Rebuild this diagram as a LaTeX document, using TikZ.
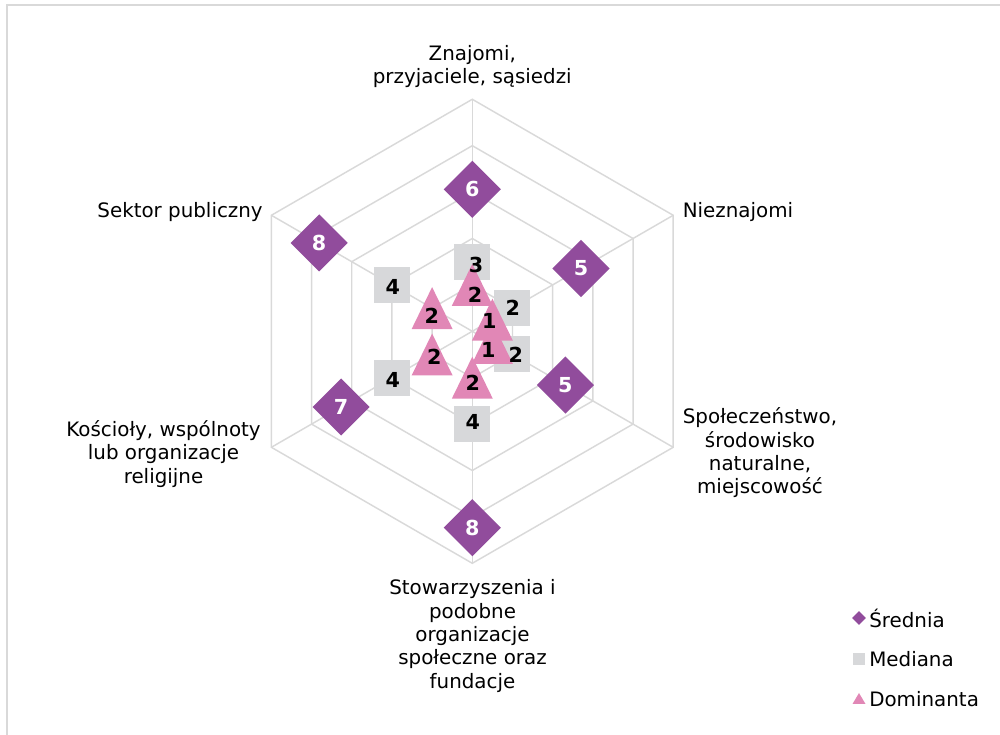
\documentclass[tikz,border=0pt]{standalone}
\usepackage{fontspec}
\setmainfont{DejaVu Sans}
\usetikzlibrary{shapes.geometric,calc}
\definecolor{gridc}{RGB}{217,217,217}
\definecolor{meanc}{RGB}{145,76,156}
\definecolor{medc}{RGB}{215,216,218}
\definecolor{domc}{RGB}{225,135,182}
\definecolor{framec}{RGB}{217,217,217}
\begin{document}
\begin{tikzpicture}[x=0.75pt,y=0.75pt,
  lbl/.style={font=\fontsize{14.9}{17.5}\selectfont, align=center, inner sep=0pt, text=black},
  meanbox/.style={diamond, fill=meanc, minimum width=43pt, minimum height=43pt, inner sep=0pt},
  medbox/.style={rectangle, fill=medc, minimum size=27pt, inner sep=0pt},
  numw/.style={font=\fontsize{15.5}{17}\selectfont\bfseries, text=white, inner sep=0pt},
  numb/.style={font=\fontsize{15.5}{17}\selectfont\bfseries, text=black, inner sep=0pt},
  gridline/.style={draw=gridc, line width=1.1pt}]
\useasboundingbox (0,0) rectangle (1000,735);
% frame (top and left edges)
\draw[draw=framec, line width=1.5pt] (7,-5) -- (7,730) -- (1005,730);
% centre
\coordinate (C) at (472.3,403.7);
% grid rings
\foreach \r in {46.4,92.8,139.2,185.6,232}{
  \draw[gridline] ($(C)+(90:\r)$) -- ($(C)+(30:\r)$) -- ($(C)+(-30:\r)$) -- ($(C)+(-90:\r)$) -- ($(C)+(-150:\r)$) -- ($(C)+(150:\r)$) -- cycle;
}
\foreach \a in {90,30,-30,-90,-150,150}{
  \draw[gridline] (C) -- ($(C)+(\a:232)$);
}
% axis labels
\node[lbl] (lA) at (472.3,668.5) {Znajomi,\\przyjaciele, sąsiedzi};
\node[lbl, anchor=east] (lB) at (263,523) {Sektor publiczny};
\node[lbl, anchor=west] (lC) at (682.5,523) {Nieznajomi};
\node[lbl] (lD) at (760,282) {Społeczeństwo,\\środowisko\\naturalne,\\miejscowość};
\node[lbl] (lE) at (163.5,281) {Kościoły, wspólnoty\\lub organizacje\\religijne};
\node[lbl] (lF) at (472.5,99) {Stowarzyszenia i\\podobne\\organizacje\\społeczne oraz\\fundacje};
% mean (diamonds)
\node[meanbox] (m1) at ($(C)+(90:142)$) {};
\node[meanbox] (m2) at ($(C)+(30:125.5)$) {};
\node[meanbox] (m3) at ($(C)+(-30:107.5)$) {};
\node[meanbox] (m4) at ($(C)+(-90:196.4)$) {};
\node[meanbox] (m5) at ($(C)+(-150:151.4)$) {};
\node[meanbox] (m6) at ($(C)+(150:176.8)$) {};
% median (squares)
\node[medbox] (d1) at ($(C)+(90:69.6)$) {};
\node[medbox] (d2) at ($(C)+(30:46.4)$) {};
\node[medbox] (d3) at ($(C)+(-30:46.4)$) {};
\node[medbox] (d4) at ($(C)+(-90:92.8)$) {};
\node[medbox] (d5) at ($(C)+(-150:92.8)$) {};
\node[medbox] (d6) at ($(C)+(150:92.8)$) {};
% dominant (triangles)
\foreach \a/\r/\n in {90/46.4/t1,30/23.2/t2,-30/23.2/t3,-90/46.4/t4,-150/46.4/t5,150/46.4/t6}{
  \coordinate (\n) at ($(C)+(\a:\r)$);
  \fill[domc] ($(\n)+(-20.5,-21)$) -- ($(\n)+(20.5,-21)$) -- ($(\n)+(0,21)$) -- cycle;
}
% value labels
\node[numw] (v1) at (m1) {6};
\node[numw] (v2) at (m2) {5};
\node[numw] (v3) at (m3) {5};
\node[numw] (v4) at (m4) {8};
\node[numw] (v5) at (m5) {7};
\node[numw] (v6) at (m6) {8};
\node[numb] (w1) at (476,470) {3};
\node[numb] (w2) at (512.7,426.7) {2};
\node[numb] (w3) at (515.7,380) {2};
\node[numb] (w4) at (472.7,313.3) {4};
\node[numb] (w5) at (392.7,355) {4};
\node[numb] (w6) at (392.7,447.7) {4};
\node[numb] (u1) at (475,440) {2};
\node[numb] (u2) at (489.3,414.3) {1};
\node[numb] (u3) at (488.3,385) {1};
\node[numb] (u4) at (472.7,351.7) {2};
\node[numb] (u5) at (434.3,378.3) {2};
\node[numb] (u6) at (431.7,419) {2};
% legend
\node[diamond, fill=meanc, minimum width=10.5pt, minimum height=10.5pt, inner sep=0pt] (k1) at (859,117) {};
\node[rectangle, fill=medc, minimum size=8.5pt, inner sep=0pt] (k2) at (859,76) {};
\coordinate (k3) at (859,36);
\fill[domc] ($(k3)+(-6.5,-5)$) -- ($(k3)+(6.5,-5)$) -- ($(k3)+(0,6)$) -- cycle;
\node[lbl, anchor=west] (e1) at (869,117) {Średnia};
\node[lbl, anchor=west] (e2) at (869,76) {Mediana};
\node[lbl, anchor=west] (e3) at (869,36) {Dominanta};
\end{tikzpicture}
\end{document}
